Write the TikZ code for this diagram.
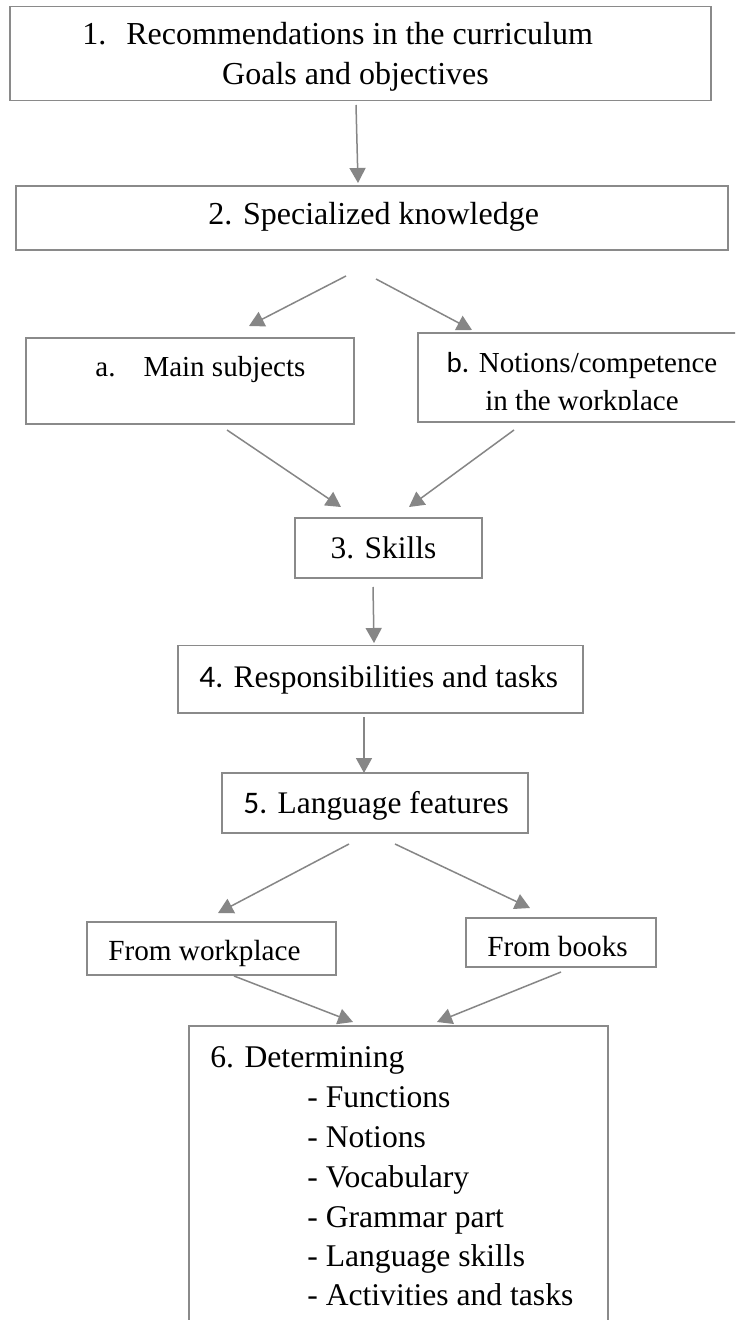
\documentclass[tikz,border=0pt]{standalone}
\usepackage{fontspec}
\setmainfont{Liberation Serif}
\newfontfamily\calfont{Carlito}
\usetikzlibrary{arrows.meta}
\definecolor{boxgray}{HTML}{8A8A8A}
\definecolor{arrgray}{HTML}{868686}
\newcommand\fsz[1]{\fontsize{#1}{1.22\dimexpr#1\relax}\selectfont}
\tikzset{
  box/.style={draw=boxgray, line width=0.8pt, rectangle, inner sep=0pt},
  txt/.style={inner sep=0pt, text=black},
  conn/.style={draw=arrgray, line width=0.75pt, -{Triangle[length=7.5pt,width=8pt]}},
}
\begin{document}
\begin{tikzpicture}[x=0.5pt,y=-0.5pt]
\useasboundingbox (0,0) rectangle (735,1320);
\clip (0,0) rectangle (735,1320);
\fill[white] (0,0) rectangle (735,1320);

% boxes
\node[box, minimum width=350.5pt, minimum height=47pt] (b1) at (360.5,53.5) {};
\node[box, minimum width=356pt, minimum height=32pt] (b2) at (372,218) {};
\node[box, minimum width=164pt, minimum height=43pt] (ba) at (190,381) {};
\node[box, minimum width=164pt, minimum height=44.5pt] (bb) at (582,377.5) {};
\node[box, minimum width=93.5pt, minimum height=30pt] (b3) at (388.5,548) {};
\node[box, minimum width=202.5pt, minimum height=33.75pt] (b4) at (380.5,679.25) {};
\node[box, minimum width=153pt, minimum height=30pt] (b5) at (375,803) {};
\node[box, minimum width=124.5pt, minimum height=26.5pt] (bw) at (211.5,948.5) {};
\node[box, minimum width=95pt, minimum height=24.5pt] (bk) at (561,942.5) {};
\node[box, minimum width=209.5pt, minimum height=157pt] (b6) at (398.5,1183) {};

% texts
\node[txt, font=\fsz{16pt}, anchor=base west] (t1a) at (82,45) {1.\hspace{10pt}Recommendations in the curriculum};
\node[txt, font=\fsz{16pt}, anchor=base] (t1b) at (355.5,85) {Goals and objectives};
\node[txt, font=\fsz{16pt}, anchor=base west] (t2) at (208,225) {2. Specialized knowledge};
\node[txt, font=\fsz{14.5pt}, anchor=base west] (ta) at (95,377) {a.\hspace{14pt}Main subjects};
\node[txt, font=\fsz{14.5pt}, anchor=base] (tb1) at (582,372) {{\calfont b.} Notions/competence};
\begin{scope}
  \clip (417,333) rectangle (735,410);
  \node[txt, font=\fsz{14.5pt}, anchor=base] (tb2) at (582,410) {in the workplace};
\end{scope}
\node[txt, font=\fsz{15.7pt}, anchor=base] (t3) at (383.5,558) {3. Skills};
\node[txt, font=\fsz{15.7pt}, anchor=base west] (t4) at (199,687) {{\calfont 4.} Responsibilities and tasks};
\node[txt, font=\fsz{15.7pt}, anchor=base west] (t5) at (243,813) {{\calfont 5.} Language features};
\node[txt, font=\fsz{14.6pt}, anchor=base west] (tw) at (108,960) {From workplace};
\node[txt, font=\fsz{14.6pt}, anchor=base west] (tk) at (487,956) {From books};
\node[txt, font=\fsz{15.8pt}, anchor=base west] (d0) at (210,1067) {6. Determining};
\node[txt, font=\fsz{15.8pt}, anchor=base west] (d1) at (307,1107) {- Functions};
\node[txt, font=\fsz{15.8pt}, anchor=base west] (d2) at (307,1147) {- Notions};
\node[txt, font=\fsz{15.8pt}, anchor=base west] (d3) at (307,1187) {- Vocabulary};
\node[txt, font=\fsz{15.8pt}, anchor=base west] (d4) at (307,1227) {- Grammar part};
\node[txt, font=\fsz{15.8pt}, anchor=base west] (d5) at (307,1266) {- Language skills};
\node[txt, font=\fsz{15.8pt}, anchor=base west] (d6) at (307,1305) {- Activities and tasks};

% connector end points
\coordinate (a1s) at (356,105);  \coordinate (a1e) at (358,183);
\coordinate (a2ls) at (346,276); \coordinate (a2le) at (249,326);
\coordinate (a2rs) at (376,279); \coordinate (a2re) at (472,330);
\coordinate (a3ls) at (227,430); \coordinate (a3le) at (341,507);
\coordinate (a3rs) at (514,430); \coordinate (a3re) at (409,507);
\coordinate (a4s) at (373,587);  \coordinate (a4e) at (374,643);
\coordinate (a5s) at (364,717);  \coordinate (a5e) at (364,773);
\coordinate (a6ls) at (349,844); \coordinate (a6le) at (218,913);
\coordinate (a6rs) at (395,844); \coordinate (a6re) at (530,908);
\coordinate (a7ls) at (234,976); \coordinate (a7le) at (353,1022);
\coordinate (a7rs) at (561,972); \coordinate (a7re) at (437,1022);

% connectors
\draw[conn] (a1s) -- (a1e);
\draw[conn] (a2ls) -- (a2le);
\draw[conn] (a2rs) -- (a2re);
\draw[conn] (a3ls) -- (a3le);
\draw[conn] (a3rs) -- (a3re);
\draw[conn] (a4s) -- (a4e);
\draw[conn] (a5s) -- (a5e);
\draw[conn] (a6ls) -- (a6le);
\draw[conn] (a6rs) -- (a6re);
\draw[conn] (a7ls) -- (a7le);
\draw[conn] (a7rs) -- (a7re);
\end{tikzpicture}
\end{document}
